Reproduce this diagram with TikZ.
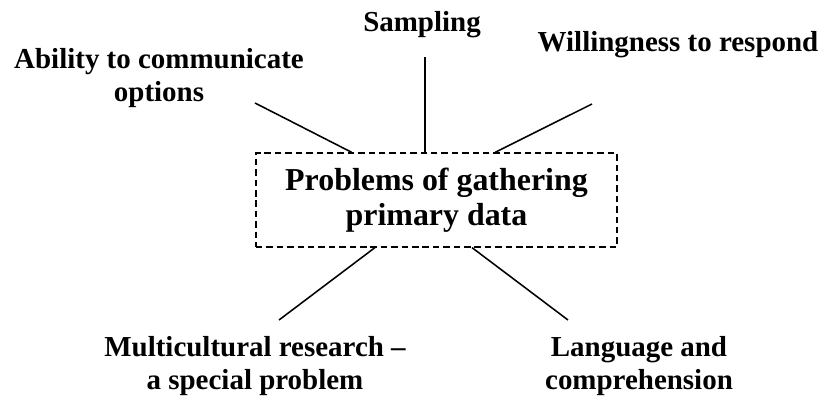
\documentclass[tikz,border=0pt]{standalone}
\usepackage{fontspec}
\setmainfont{Liberation Serif}
\usetikzlibrary{calc}

\begin{document}
\begin{tikzpicture}[lbl/.style = {align=center, inner sep=0pt, font=\bfseries\fontsize{20.6}{23.5}\selectfont},
        hub/.style = {draw, dashed, line width=0.9pt, dash pattern=on 4.6pt off 2.8pt, minimum width=9.025cm, minimum height=2.35cm, inner sep=0pt, align=center, font=\bfseries\fontsize{22.7}{24.9}\selectfont},
        ln/.style = {line width=1.1pt}]
        \useasboundingbox (0,0) rectangle (20.6,9.9);

        \node[hub] (hub) at (10.9125,4.9) {Problems of gathering\\primary data};

        \node[lbl] (sampling) at (10.55,9.28) {Sampling};
        \node[lbl] (ability) at (3.975,7.96) {Ability to communicate\\options};
        \node[lbl] (willing) at (16.95,8.78) {Willingness to respond};
        \node[lbl] (multi) at (6.375,0.74) {Multicultural research --\\a special problem};
        \node[lbl] (lang) at (15.975,0.74) {Language and\\comprehension};

        % free ends near the labels
        \coordinate (e-ability) at (6.375,7.325);
        \coordinate (e-sampling) at (10.625,8.475);
        \coordinate (e-willing) at (14.8,7.3);
        \coordinate (e-multi) at (6.975,1.9);
        \coordinate (e-lang) at (14.2,1.9);

        \draw[ln] (e-ability) -- ($(hub.north west)!0.266!(hub.north east)$);
        \draw[ln] (e-sampling) -- (hub.north -| e-sampling);
        \draw[ln] (e-willing) -- ($(hub.north west)!0.662!(hub.north east)$);
        \draw[ln] (e-multi) -- ($(hub.south west)!0.33!(hub.south east)$);
        \draw[ln] (e-lang) -- ($(hub.south west)!0.598!(hub.south east)$);
    \end{tikzpicture}
\end{document}
